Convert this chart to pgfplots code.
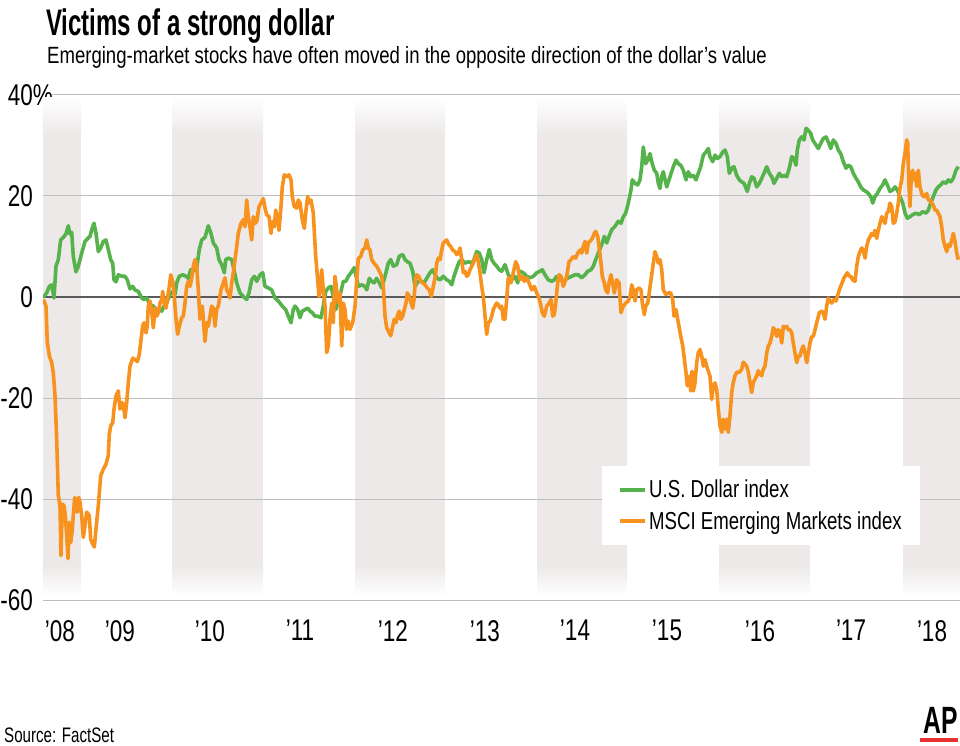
\documentclass[border=0pt]{standalone}
\usepackage{fontspec}
\usepackage{pgfplots}
\pgfplotsset{compat=1.18}
\setmainfont{Liberation Sans}[FakeStretch=0.75]
\newfontfamily\titlefont{Liberation Sans}[FakeStretch=0.65]
\newfontfamily\subfont{Liberation Sans}[FakeStretch=0.79]
\newfontfamily\legfont{Liberation Sans}[FakeStretch=0.76]
\newfontfamily\srcfont{Liberation Sans}[FakeStretch=0.72]
\definecolor{usdgreen}{RGB}{86,178,74}
\definecolor{emorange}{RGB}{247,146,30}
\definecolor{bandgray}{RGB}{236,233,232}
\definecolor{gridgray}{RGB}{190,190,190}
\definecolor{zerogray}{RGB}{90,90,90}
\definecolor{apred}{RGB}{230,50,50}
\newcommand{\band}[2]{%
  \fill[bandgray] (axis cs:#1,-53) rectangle (axis cs:#2,32);
  \fill[top color=white,bottom color=bandgray,draw=none] (axis cs:#1,39.5) rectangle (axis cs:#2,32);
  \fill[top color=bandgray,bottom color=white,draw=none] (axis cs:#1,-53) rectangle (axis cs:#2,-59.3);
}
\begin{document}
\begin{tikzpicture}
\path[use as bounding box] (0pt,0pt) rectangle (960pt,-746pt);
\node[anchor=base west,inner sep=0pt,font=\titlefont\fontsize{37}{40}\selectfont\bfseries] at (46pt,-36pt) {Victims of a strong dollar};
\node[anchor=base west,inner sep=0pt,font=\subfont\fontsize{23.5}{26}\selectfont] at (47pt,-64pt) {Emerging-market stocks have often moved in the opposite direction of the dollar’s value};
\begin{axis}[
  at={(43pt,-600pt)}, anchor=south west,
  width=917pt, height=505pt, scale only axis,
  xmin=43, xmax=960, ymin=-60, ymax=40,
  axis line style={draw=none},
  ytick={-60,-40,-20,0,20,40},
  yticklabels={-60,-40,-20,0,20,40\rlap{\%}},
  major tick length=0pt,
  tick style={draw=none},
  yticklabel style={anchor=east,inner sep=0pt,xshift=-10pt,font=\fontsize{30}{32}\selectfont},
  xtick={60,120,210,300,393,485,575,667,760,851,932},
  xticklabels={'08,'09,'10,'11,'12,'13,'14,'15,'16,'17,'18},
  xticklabel style={anchor=north,inner sep=0pt,yshift=-20pt,font=\fontsize{30}{32}\selectfont},
  legend style={at={(0.6096,0.2653)},anchor=north west,draw=none,fill=white,
    inner xsep=16pt,inner ysep=12pt,row sep=8pt,
    font=\legfont\fontsize{24.5}{26}\selectfont,cells={anchor=west}},
  legend image code/.code={\draw[#1,line width=4pt] (0pt,0pt) -- (25pt,0pt);},
  /tikz/every even column/.append style={column sep=3pt},
]
\band{43}{81}
\band{172}{263}
\band{355}{445}
\band{537}{627}
\band{719}{810}
\band{903}{960}
\draw[gridgray,line width=1pt] (axis cs:43,-60) -- (axis cs:960,-60);
\draw[gridgray,line width=1pt] (axis cs:43,-40) -- (axis cs:960,-40);
\draw[gridgray,line width=1pt] (axis cs:43,-20) -- (axis cs:960,-20);
\draw[gridgray,line width=1pt] (axis cs:43,20) -- (axis cs:960,20);
\draw[gridgray,line width=1pt] (axis cs:52,40) -- (axis cs:960,40);
\draw[zerogray,line width=2pt] (axis cs:43,0) -- (axis cs:960,0);
\addplot[usdgreen,line width=3.6pt,line join=round] coordinates {
(43.3,0) (46.7,0.8) (49.3,2.1) (51.7,2.4) (54,-0.2) (56,6.1) (58.3,7.4) (60.7,11.3) (63.3,11.8) (66,12.5) (68.3,14.1) (70,12.5) (71.7,12.8) (73.3,8.0) (76,5.0) (78.3,6.1) (81.7,8.7) (85,11.0) (88.3,11.7) (90,12.0) (91.7,13.3) (94,14.6) (96,12.6) (98.3,9.0) (100.7,9.7) (103.3,11.0) (106,11.3) (108.3,9.4) (110.7,7.4) (112.7,6.7) (114,3.4) (116,3.0) (118.3,4.4) (121.7,4.1) (125,4.1) (127.3,3.4) (130,1.6) (132.7,2.1) (135,1.4) (138.3,1.1) (141.7,-0.2) (144,-0.5) (146.7,-0.2) (150,-1.5) (153.3,-1.8) (156.7,-2.5) (159.3,-2.5) (161.7,-2.8) (164,-1.8) (166.7,-1.2) (170,0.5) (172.7,1.1) (175,0.5) (176.7,2.8) (179.3,4.1) (182.7,4.4) (186,4.1) (188.3,3.7) (190.7,5.4) (193.3,5.1) (196.7,5.8) (199.3,9.4) (201.7,11.3) (205,11.8) (208.3,14.1) (211,12.6) (213.3,10.7) (216.7,9.7) (219,7.4) (221.7,6.4) (224.3,4.8) (225.7,7.4) (228.3,7.7) (231.7,7.4) (234.3,5.1) (236.7,2.8) (240,0.8) (243.3,0.1) (246.7,-0.5) (249,0.8) (251.7,3.4) (254.3,4.1) (256.7,3.1) (260,4.4) (262.7,4.8) (265,2.1) (268.3,1.8) (271.7,1.4) (275,-0.2) (278.3,-0.8) (282.3,-1.8) (285.7,-2.5) (288.3,-3.8) (291,-5.1) (293.3,-2.5) (295,-1.8) (297.7,-2.5) (300,-4.1) (302.3,-2.8) (305,-2.5) (307.7,-2.2) (310,-2.8) (312.3,-3.1) (315,-3.8) (317.7,-3.8) (321,-4.1) (323.3,-1.8) (325.7,1.1) (328.3,1.8) (331,2.1) (333.3,0.1) (335.7,-2.5) (338.3,-0.9) (341,1.1) (343.3,3.1) (345.7,3.1) (348.3,4.1) (351,4.8) (354.3,5.8) (358.3,2.1) (361.7,2.4) (365,2.1) (366.7,1.4) (369.3,3.7) (371.7,3.1) (374,2.8) (376.7,3.7) (379.3,2.8) (381.7,1.8) (385,4.1) (388.3,6.7) (390.7,7.4) (393.3,6.1) (396.7,6.4) (399.3,8.1) (402.7,8.4) (405,7.4) (407.3,7.0) (410,6.7) (412.7,5.1) (415,2.1) (418.3,3.1) (421.7,3.1) (424,2.8) (426.7,3.7) (430,4.8) (432.7,5.4) (435,4.4) (437.3,3.7) (440,3.4) (443.3,4.1) (446.7,3.4) (449.3,3.1) (451.7,2.4) (454,4.1) (456.7,5.7) (459.3,7.0) (461.7,7.4) (465,6.7) (468.3,7.0) (471.7,6.7) (474,7.4) (476.7,9.0) (479.3,8.7) (481.7,7.4) (484,4.8) (486.7,7.4) (489.3,9.4) (491.7,7.4) (494,6.7) (496.7,6.1) (499.3,5.4) (501.7,5.1) (505,6.4) (508.3,4.4) (511.7,3.4) (515,4.1) (517.7,2.8) (520,5.1) (523.3,4.8) (526.7,4.1) (530,3.8) (533.3,4.1) (536.7,4.8) (540,5.1) (542.3,5.4) (545,4.4) (548.3,3.4) (551.7,3.1) (554.3,3.4) (556.7,4.1) (560,3.8) (562.3,3.1) (565,3.4) (568.3,3.8) (571.7,4.1) (575,4.4) (578.3,4.4) (581.7,3.8) (585,4.4) (587.7,5.1) (591,5.4) (593.3,6.1) (595.7,7.4) (598.3,8.7) (601.7,10.4) (604.3,12.0) (606.7,10.7) (609,12.0) (611.7,13.3) (615,14.0) (618.3,15.0) (621,14.6) (623.3,15.9) (625.7,16.6) (628.3,18.6) (631,21.2) (632.3,23.2) (635,22.5) (637.7,22.2) (640,23.2) (641.7,25.8) (643.3,29.7) (645.7,26.4) (647.7,27.1) (650,28.4) (651.7,26.8) (654.3,25.1) (656.7,24.5) (658.3,22.5) (660,21.5) (661.7,23.9) (663.3,24.8) (666.7,21.8) (670,23.8) (673.3,25.8) (676,27.1) (678.3,26.4) (680.7,26.1) (683.3,25.1) (686,23.2) (688.3,24.8) (690.7,23.8) (693.3,24.1) (696,23.2) (698.3,24.5) (700.7,25.8) (703.3,28.1) (706,28.7) (708.3,29.4) (710,27.8) (712.7,26.8) (715,28.1) (717.3,27.4) (720,27.8) (722.7,28.7) (725,29.1) (727.3,27.8) (729.3,24.5) (731.7,25.5) (734,25.8) (736.7,24.1) (739.3,23.2) (741.7,22.8) (744,22.5) (747.3,20.9) (749.3,22.5) (751.7,23.8) (754,23.5) (756.7,21.8) (759.3,22.5) (761.7,23.5) (764,24.5) (766.7,25.8) (769.3,24.5) (771.7,23.8) (774,22.5) (776.7,23.5) (779.3,24.5) (781.7,23.8) (784,24.1) (786.7,23.8) (789.3,25.5) (791.7,27.8) (794,27.4) (796,26.1) (797.3,29.1) (799.3,31.1) (801.7,31.7) (804,31.1) (806,33.4) (808.3,33.0) (810.7,32.4) (812.7,31.1) (815,30.4) (818.3,29.4) (820.7,30.4) (823.3,31.4) (826,31.7) (828.3,30.7) (830.7,29.4) (833.3,31.1) (836,30.4) (838.3,29.1) (840.7,28.4) (843.3,26.8) (846,25.5) (848.3,26.1) (850.7,25.8) (853.3,24.5) (856,23.5) (858.3,22.8) (860.7,21.8) (863.3,21.2) (866,20.9) (868.3,20.5) (870.7,19.9) (872.7,18.6) (875,19.9) (877.3,20.5) (880,21.5) (882.7,22.2) (885,23.2) (887.3,22.2) (890,20.9) (892.7,21.2) (895,21.8) (897.3,21.2) (900,19.9) (902.7,18.6) (905,16.6) (907.3,15.6) (910,15.9) (912.7,16.3) (916,16.6) (919.3,16.3) (922.7,16.9) (926,16.6) (928.3,17.2) (930.7,18.6) (933.3,19.9) (936,21.2) (938.3,21.8) (940.7,22.2) (943.3,22.8) (946,22.5) (948.3,23.2) (950.7,22.8) (953.3,23.5) (956,25.1) (958.3,25.8)
};
\addlegendentry{U.S. Dollar index}
\addplot[emorange,line width=3.6pt,line join=round] coordinates {
(43.3,-0.5) (46,-1.8) (47.3,-9.0) (49.3,-11.6) (51.7,-13.0) (53.3,-15.0) (55,-19.6) (56.7,-28.2) (58.3,-39.3) (60,-41.3) (61,-51.2) (62.3,-41.0) (64,-41.3) (65.3,-43.3) (66.7,-47.2) (68,-51.8) (69.3,-44.6) (70.7,-48.6) (72,-46.6) (73.3,-43.3) (74.7,-39.7) (76,-42.0) (77.3,-42.6) (78.7,-39.7) (80,-40.7) (81.7,-43.3) (83.3,-47.6) (85,-45.3) (86.7,-42.6) (89.3,-43.3) (90.7,-48.0) (92.7,-48.9) (94.3,-49.5) (96,-45.9) (98.3,-41.3) (100.7,-35.4) (103.3,-34.1) (106,-33.1) (108.3,-31.4) (109.3,-27.2) (110.7,-25.5) (112.7,-24.9) (114,-22.2) (116,-19.6) (118.3,-18.6) (120,-22.2) (121.7,-20.9) (123.3,-21.2) (125,-23.9) (126.7,-20.9) (128.3,-17.0) (130,-13.7) (132.7,-12.1) (135,-12.4) (137.3,-12.8) (139.3,-11.4) (140.7,-9.0) (142.7,-5.7) (144,-5.1) (146,-7.1) (147.3,-5.7) (148.3,-1.8) (150,-0.8) (151.7,-2.8) (153.3,-6.1) (155,-2.2) (156.7,-3.8) (158.3,-3.1) (160,-1.2) (161.7,-0.5) (162.7,1.1) (164,-1.2) (166,-2.2) (167.3,-0.5) (169.3,2.1) (170.7,4.4) (172.7,3.1) (174,0.8) (176,-4.4) (177.7,-7.4) (179.3,-5.8) (181.7,-4.1) (183.3,-3.8) (185,-1.2) (186.7,2.1) (188.3,3.1) (190,2.1) (191.7,3.8) (193.3,6.1) (195,7.4) (196.7,6.1) (198.3,1.4) (200,-4.4) (202.3,-1.8) (205,-8.8) (206.7,-5.1) (208.3,-5.8) (210,-3.8) (211.7,-1.8) (213.3,-2.2) (215,-5.8) (216.7,-2.5) (218.3,-1.8) (221,1.4) (223.3,2.8) (225,3.8) (226.7,1.4) (228.3,0.8) (230,-0.2) (231.7,2.8) (233.3,4.8) (235,7.4) (236.7,10.0) (238.3,12.6) (241,14.6) (243.3,15.3) (245,13.9) (246.7,19.2) (248.3,15.9) (250,13.9) (251.7,11.3) (253.3,15.9) (255,14.6) (256.7,14.9) (259,17.9) (261,18.6) (263.3,19.5) (265,17.6) (266.7,16.3) (269,15.9) (271,12.6) (272.3,14.9) (274.3,13.9) (275.7,17.2) (277.7,15.2) (279,13.2) (281,17.9) (282.3,21.8) (284.3,24.2) (286.7,23.8) (289,24.2) (291,23.2) (292.3,19.9) (294.3,17.9) (296.7,17.6) (298.3,19.2) (300,18.6) (302.3,15.3) (304.3,13.6) (306,17.2) (307.7,19.9) (309,18.6) (311,19.2) (313.3,16.6) (315.7,8.0) (317.7,3.4) (319,0.1) (320.3,1.4) (321.7,5.4) (323.3,1.4) (325,-1.8) (326.7,-11.0) (328.3,-9.7) (330,-4.4) (331.7,-1.2) (333.3,-5.1) (335,4.1) (336.7,1.4) (338.3,-1.2) (340,0.8) (341.7,-9.7) (343.3,-1.2) (345,-2.5) (346.7,-6.4) (348.3,-4.8) (350,-6.4) (352.7,-5.1) (355,-1.8) (356.7,3.4) (358.3,7.6) (360.7,8.0) (362.7,9.3) (365,9.7) (366.7,11.3) (368.3,9.7) (370,9.3) (371.7,7.4) (374,6.7) (376.7,6.1) (379.3,5.1) (381.7,4.1) (383.3,2.1) (385,-3.8) (386.7,-6.1) (389.3,-7.1) (390.7,-7.7) (392.7,-5.8) (394.3,-4.4) (396,-5.1) (397.7,-3.5) (399.3,-2.8) (400.7,-4.4) (402.7,-3.8) (404.3,-2.5) (406,-1.2) (407.3,0.8) (409.3,0.1) (411,-1.2) (412.7,-2.2) (414,-0.5) (415.3,3.4) (416.7,4.4) (418.7,4.1) (420.7,3.1) (422.7,2.8) (425,2.4) (427.3,1.8) (429.3,1.4) (431.3,0.1) (433.3,2.1) (435.3,4.1) (436.7,6.7) (438.3,7.7) (440,7.4) (441.7,9.3) (443.3,10.7) (445,11.0) (446.7,11.3) (448.7,10.4) (450.7,10.0) (452.7,9.3) (455,9.0) (456.7,8.4) (458.3,8.7) (460,9.7) (461.7,7.4) (463.3,4.8) (465,5.1) (466.7,4.1) (468.3,4.4) (470,5.4) (471.7,6.1) (473.3,6.7) (475,7.7) (476.7,8.4) (478.3,7.0) (480,4.8) (481.7,2.1) (483.3,0.1) (485,-3.8) (486.7,-7.4) (488.3,-5.1) (490,-4.8) (491.7,-3.8) (493.3,-2.5) (495,-1.8) (496.7,-1.2) (498.3,-1.5) (500,-2.2) (501.7,-1.8) (503.3,-4.4) (505,-4.4) (506.7,-0.5) (508.3,3.8) (511,2.8) (513.3,4.8) (515.7,7.0) (517.7,6.1) (520,3.4) (522.3,4.1) (524.3,3.1) (526.7,3.8) (529,2.8) (531.7,1.4) (534.3,2.1) (536.7,0.8) (539,-0.2) (541,-1.8) (542.3,-3.1) (544.3,-3.8) (546.7,-1.8) (549,-1.2) (551,-0.5) (552.7,-3.8) (554.3,-3.5) (555.7,-1.2) (557.7,2.8) (559,4.4) (561,4.1) (563.3,2.1) (565,3.1) (566.7,4.1) (569,7.0) (571,7.4) (573.3,8.0) (575.7,7.7) (577.7,8.7) (580,9.3) (581.7,8.7) (583.3,10.0) (585,11.0) (586.7,8.7) (588.3,10.7) (590,11.0) (592.3,11.6) (594.3,12.6) (595.7,13.0) (597.7,12.0) (599,10.0) (601,6.7) (602.3,4.1) (604.3,2.8) (605.7,1.4) (607.7,0.8) (609,2.8) (611,4.4) (612.3,3.1) (614.3,0.8) (616.7,3.4) (619,2.8) (621,-3.1) (623.3,-1.8) (625.7,-1.2) (628.3,-0.8) (630,0.1) (631.7,2.4) (633.3,1.4) (635,-0.8) (636.7,1.4) (639,1.8) (641,1.4) (642.3,-1.2) (644.3,-3.5) (645.7,-1.8) (647.7,-1.2) (649,0.5) (651,3.4) (653.3,6.7) (655,9.0) (656.7,8.0) (658.3,6.7) (660,7.4) (661.7,5.4) (663.3,1.4) (666,0.5) (668.3,0.8) (670.7,0.8) (672.7,-0.5) (674,-3.8) (676,-2.5) (678.3,-5.1) (680.7,-7.7) (682.7,-9.7) (684,-11.7) (686,-15.0) (687.3,-17.6) (689.3,-15.7) (690.7,-18.6) (692,-14.7) (693.3,-18.6) (695,-17.0) (696.7,-13.0) (698.3,-11.0) (700,-10.4) (701.7,-11.7) (703.3,-13.7) (705,-12.4) (706.7,-13.7) (708.3,-14.7) (710,-15.7) (711.7,-20.3) (713.3,-17.6) (715,-17.0) (716.7,-18.3) (718.3,-22.2) (720,-25.5) (721.7,-26.8) (723.3,-24.2) (725,-26.2) (726.7,-24.2) (728.3,-26.8) (730,-23.5) (731.7,-18.9) (733.3,-16.9) (735,-15.6) (736.7,-14.9) (739.3,-14.9) (741.7,-14.3) (743.3,-12.9) (745,-13.3) (746.7,-13.7) (748.3,-14.9) (750,-16.9) (751.7,-18.9) (753.3,-16.9) (755,-16.3) (756.7,-15.6) (758.3,-14.6) (760,-15.3) (761.7,-15.6) (763.3,-14.3) (765,-13.7) (766.7,-11.1) (768.3,-9.7) (770,-9.1) (771.7,-7.8) (773.3,-6.1) (775,-6.5) (776.7,-7.8) (778.3,-6.5) (780,-6.8) (781.7,-9.1) (783.3,-5.8) (785,-6.1) (786.7,-5.8) (788.3,-6.5) (790,-6.5) (791.7,-7.1) (793.3,-9.1) (795,-11.1) (796.7,-13.0) (798.3,-11.7) (800,-11.7) (801.7,-10.4) (803.3,-9.7) (805,-11.1) (806.7,-13.0) (808.3,-11.1) (810,-9.1) (811.7,-7.8) (813.3,-7.8) (815,-6.5) (816.7,-5.1) (819.3,-3.1) (821.7,-2.8) (823.3,-3.1) (825,-4.4) (826.7,-1.8) (828.3,-0.2) (830,-0.8) (831.7,-1.2) (834,-0.5) (836,-0.8) (837.3,0.1) (839.3,1.4) (840.7,2.1) (842.7,3.1) (844,3.8) (846,4.4) (847.3,4.8) (849.3,4.1) (850.7,4.1) (852.7,3.4) (855,3.1) (856.7,6.1) (858.3,8.0) (860,9.0) (861.7,9.7) (863.3,9.3) (865,7.7) (866.7,10.0) (868.3,11.3) (870,11.9) (871.7,12.6) (873.3,12.2) (875,13.2) (876.7,11.6) (878.3,13.2) (880,14.6) (881.7,15.9) (883.3,15.3) (885,14.6) (886.7,16.6) (888.3,16.9) (890,18.6) (891.7,17.9) (893.3,14.6) (895,14.9) (896.7,16.6) (898.3,18.6) (900,21.6) (901.7,23.2) (903.3,26.5) (905,28.4) (906.7,31.1) (907.7,30.4) (908.7,23.2) (910,17.9) (911,22.5) (912.7,25.1) (914,23.2) (915.3,24.5) (916.7,21.9) (918.3,25.1) (920,21.8) (921.7,20.5) (923.3,19.9) (925,19.9) (926.7,20.5) (928.3,19.2) (930,19.2) (931.7,18.6) (933.3,18.2) (935,17.2) (936.7,17.2) (938.3,16.6) (940,15.9) (941.7,13.9) (943.3,11.3) (945,10.0) (946.7,9.0) (948.3,10.4) (950,10.0) (951.7,11.3) (953.3,12.6) (955,11.0) (956.7,8.7) (958.3,7.4)
};
\addlegendentry{MSCI Emerging Markets index}
\end{axis}
\node[anchor=base west,inner sep=0pt,font=\srcfont\fontsize{21}{23}\selectfont] at (4pt,-742pt) {Source: FactSet};
\node[anchor=base east,inner sep=0pt,font=\titlefont\fontsize{38}{40}\selectfont\bfseries] at (958pt,-733pt) {AP};
\fill[apred] (920pt,-738pt) rectangle (958pt,-742pt);
\end{tikzpicture}
\end{document}
